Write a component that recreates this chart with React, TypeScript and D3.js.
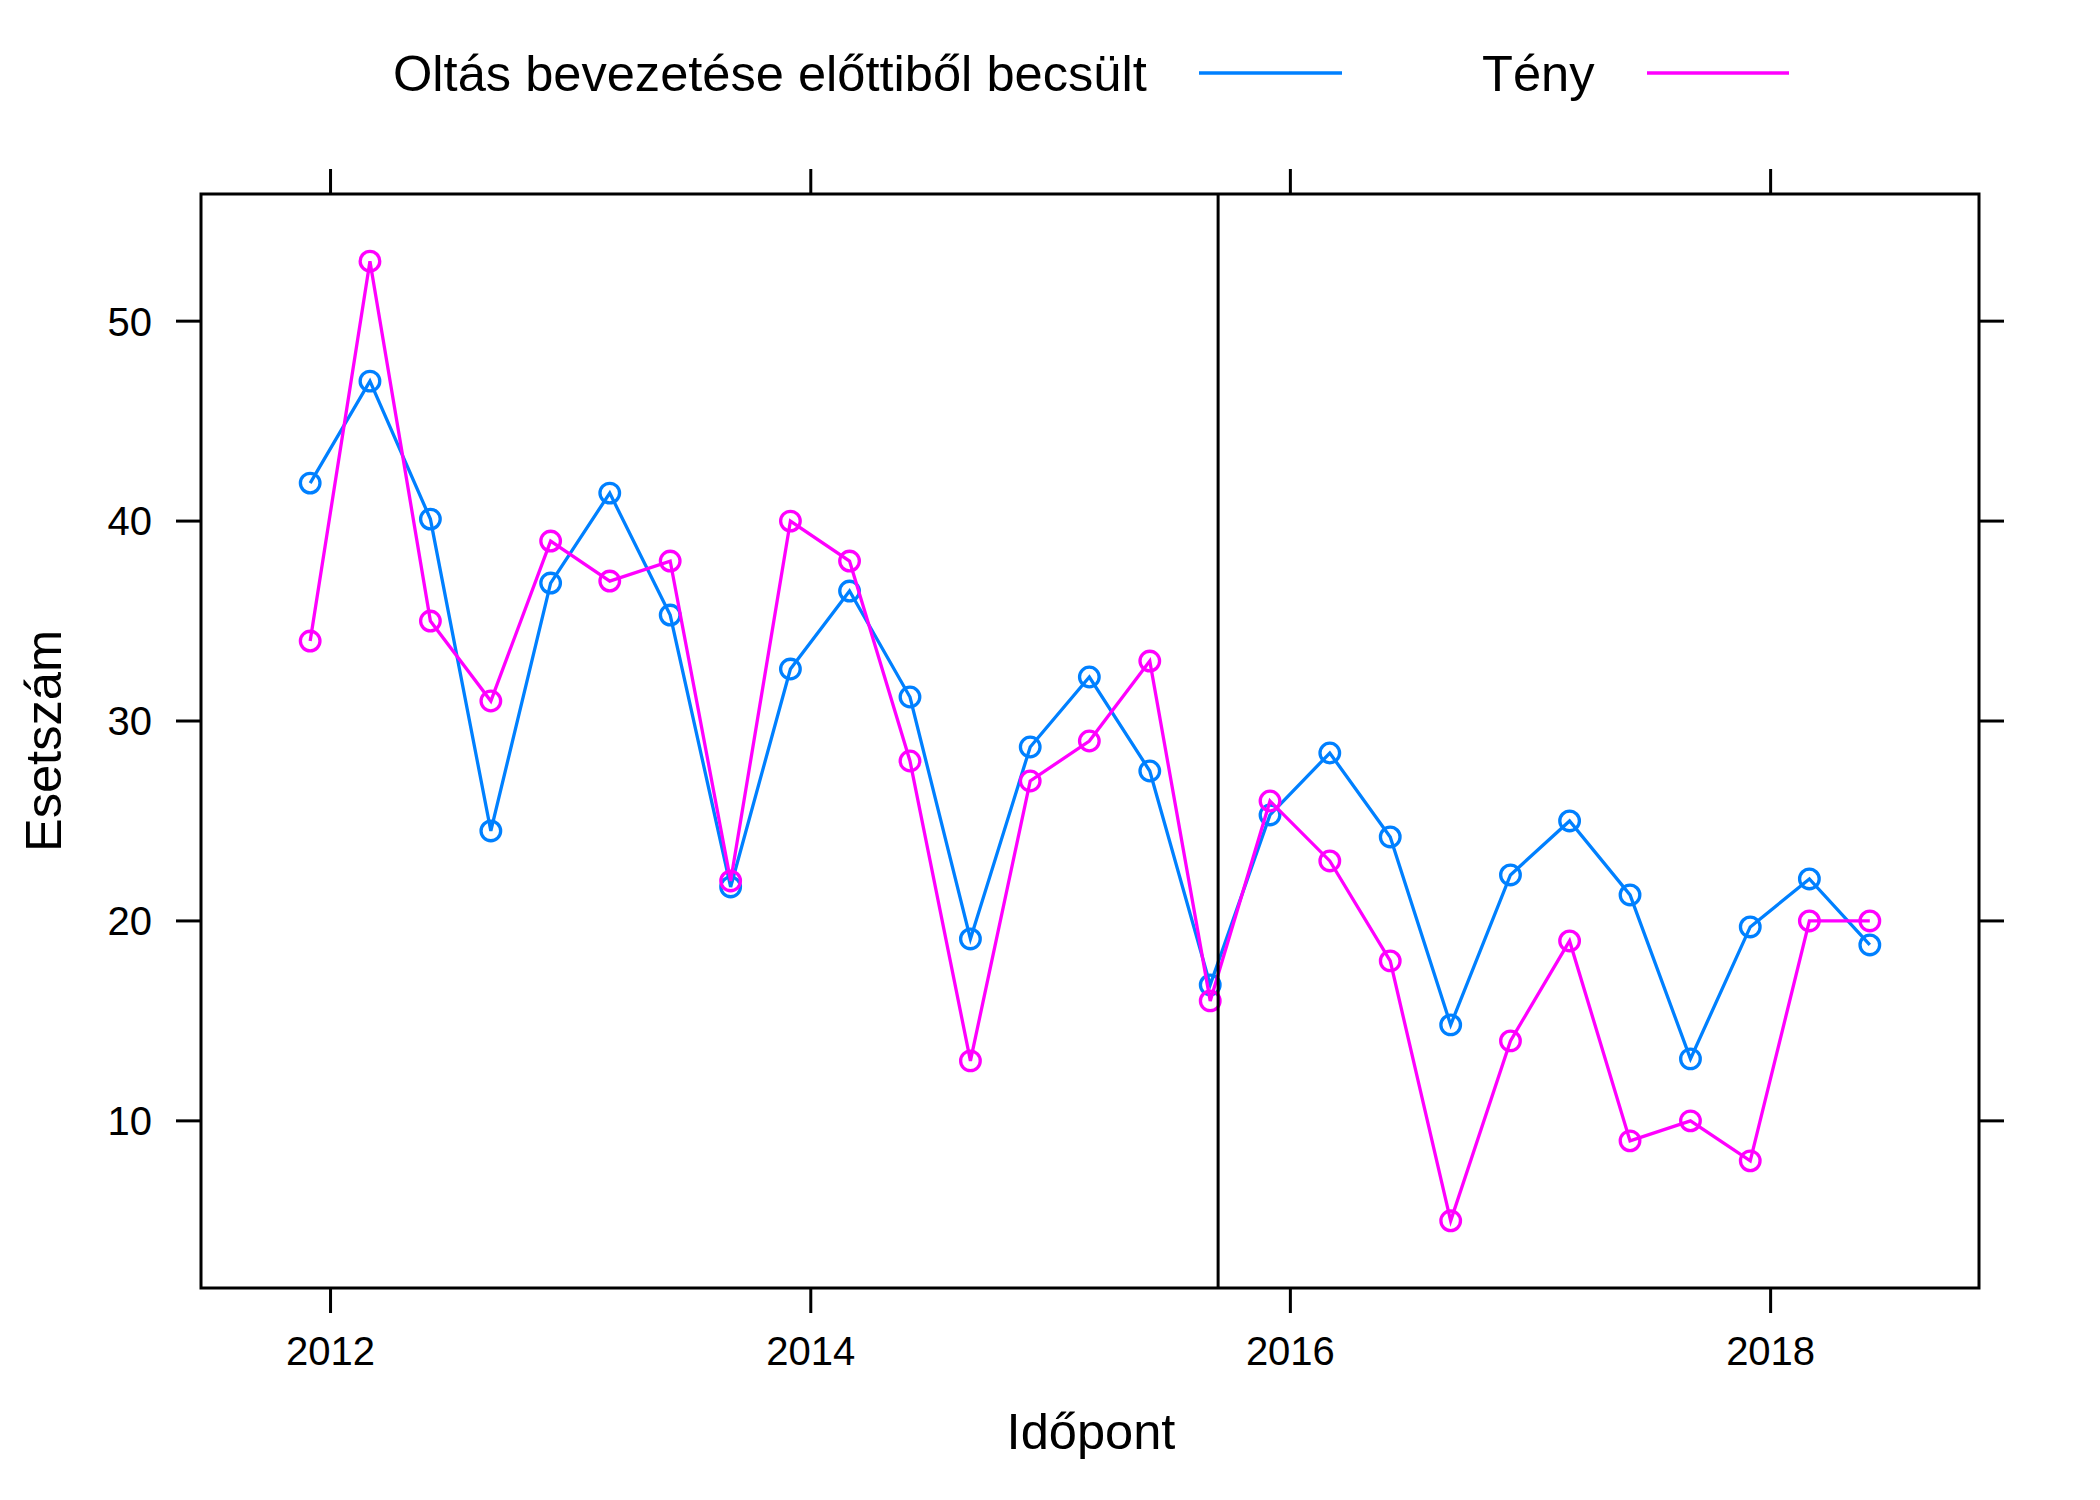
import React from "react";
import * as d3 from "d3";

const dates: string[] = [
  "2011-12-01", "2012-03-01", "2012-06-01", "2012-09-01", "2012-12-01",
  "2013-03-01", "2013-06-01", "2013-09-01", "2013-12-01", "2014-03-01",
  "2014-06-01", "2014-09-01", "2014-12-01", "2015-03-01", "2015-06-01",
  "2015-09-01", "2015-12-01", "2016-03-01", "2016-06-01", "2016-09-01",
  "2016-12-01", "2017-03-01", "2017-06-01", "2017-09-01", "2017-12-01",
  "2018-03-01", "2018-06-01",
];

const estimated: number[] = [
  41.9, 47.0, 40.1, 24.5, 36.9, 41.4, 35.3, 21.7, 32.6, 36.5,
  31.2, 19.1, 28.7, 32.2, 27.5, 16.8, 25.3, 28.4, 24.2, 14.8,
  22.3, 25.0, 21.3, 13.1, 19.7, 22.1, 18.8,
];

const actual: number[] = [
  34, 53, 35, 31, 39, 37, 38, 22, 40, 38,
  28, 13, 27, 29, 33, 16, 26, 23, 18, 5,
  14, 19, 9, 10, 8, 20, 20,
];

const seriesNames: string[] = ["Oltás bevezetése előttiből becsült", "Tény"];
const seriesColors: string[] = ["#0080ff", "#ff00ff"];
const yTicks: number[] = [10, 20, 30, 40, 50];
const xTickYears: number[] = [2012, 2014, 2016, 2018];
const vaccineDate = "2015-09-13";

const W = 2100;
const H = 1500;
const FONT = "'Liberation Sans', Arial, sans-serif";

export default function App() {
  const parsed = dates.map((d) => new Date(d + "T00:00:00Z"));
  const left = 201, right = 1979, top = 194, bottom = 1288;

  const [tmin, tmax] = d3.extent(parsed.map((d) => d.getTime())) as [number, number];
  const tpad = (tmax - tmin) * 0.07;
  const x = d3.scaleUtc().domain([new Date(tmin - tpad), new Date(tmax + tpad)]).range([left, right]);

  const allV = estimated.concat(actual);
  const [vmin, vmax] = d3.extent(allV) as [number, number];
  const vpad = (vmax - vmin) * 0.07;
  const y = d3.scaleLinear().domain([vmin - vpad, vmax + vpad]).range([bottom, top]);

  const line = d3
    .line<number>()
    .x((_, i) => x(parsed[i]))
    .y((v) => y(v));

  const series = [estimated, actual];
  const tickLen = 25;
  const sw = 3;
  const lw = 3.3;
  const xTicks = xTickYears.map((yr) => new Date(Date.UTC(yr, 0, 1)));
  const vx = x(new Date(vaccineDate + "T00:00:00Z"));

  return (
    <svg
      width={W}
      height={H}
      style={{ position: "absolute", left: 0, top: 0, background: "#fff" }}
      fontFamily={FONT}
    >
      <rect x={0} y={0} width={W} height={H} fill="#fff" />
      {/* legend */}
      <text x={393} y={91} fontSize={50.6} fill="#000">{seriesNames[0]}</text>
      <line x1={1199} x2={1342} y1={73} y2={73} stroke={seriesColors[0]} strokeWidth={lw} />
      <text x={1482} y={91} fontSize={50.6} fill="#000">{seriesNames[1]}</text>
      <line x1={1647} x2={1789} y1={73} y2={73} stroke={seriesColors[1]} strokeWidth={lw} />

      {/* ticks */}
      {yTicks.map((t) => (
        <g key={"y" + t}>
          <line x1={left - tickLen} x2={left} y1={y(t)} y2={y(t)} stroke="#000" strokeWidth={sw} />
          <line x1={right} x2={right + tickLen} y1={y(t)} y2={y(t)} stroke="#000" strokeWidth={sw} />
          <text x={152} y={y(t)} dy="0.36em" fontSize={40} textAnchor="end" fill="#000">{t}</text>
        </g>
      ))}
      {xTicks.map((t, i) => (
        <g key={"x" + i}>
          <line x1={x(t)} x2={x(t)} y1={bottom} y2={bottom + tickLen} stroke="#000" strokeWidth={sw} />
          <line x1={x(t)} x2={x(t)} y1={top - tickLen} y2={top} stroke="#000" strokeWidth={sw} />
          <text x={x(t)} y={1365} fontSize={40} textAnchor="middle" fill="#000">{xTickYears[i]}</text>
        </g>
      ))}

      {/* series */}
      {series.map((s, si) => (
        <g key={"s" + si}>
          <path d={line(s) || ""} fill="none" stroke={seriesColors[si]} strokeWidth={lw} />
          {s.map((v, i) => (
            <circle key={i} cx={x(parsed[i])} cy={y(v)} r={9.8} fill="none" stroke={seriesColors[si]} strokeWidth={lw} />
          ))}
        </g>
      ))}

      {/* vaccine line */}
      <line x1={vx} x2={vx} y1={top} y2={bottom} stroke="#000" strokeWidth={sw} />

      {/* frame */}
      <rect x={left} y={top} width={right - left} height={bottom - top} fill="none" stroke="#000" strokeWidth={sw} />

      {/* axis titles */}
      <text x={1091} y={1449} fontSize={50.6} textAnchor="middle" fill="#000">Időpont</text>
      <text transform={`translate(61, ${(top + bottom) / 2}) rotate(-90)`} fontSize={50.6} textAnchor="middle" fill="#000">Esetszám</text>
    </svg>
  );
}
